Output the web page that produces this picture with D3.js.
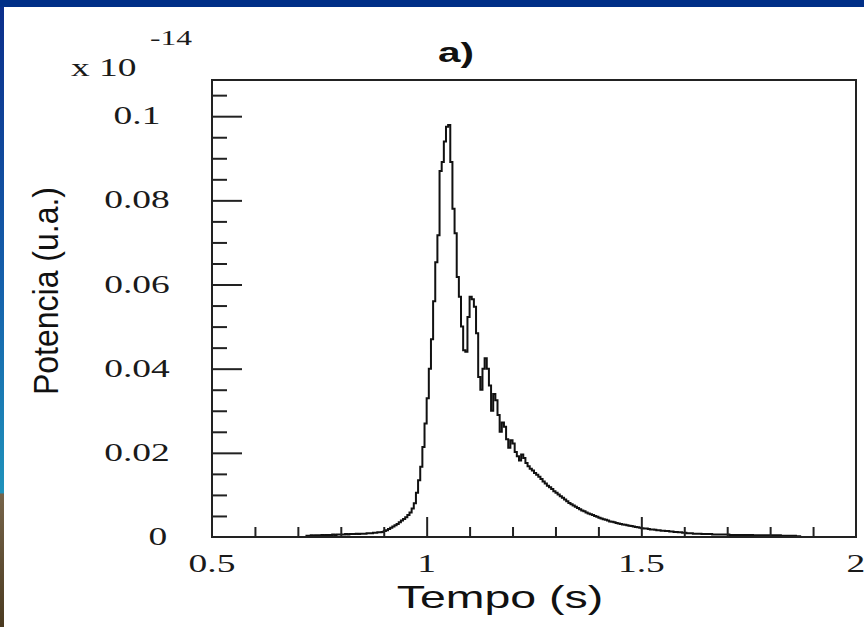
<!DOCTYPE html>
<html>
<head>
<meta charset="utf-8">
<script src="https://cdn.jsdelivr.net/npm/d3@7"></script>
<style>
    html, body { margin: 0; padding: 0; background: #ffffff; }
    #chart { width: 864px; height: 627px; }
</style>
</head>
<body>
<div id="chart"></div>
<script>
// Power vs time histogram, slide "a)"
// values are in units of 1e-14 (u.a.), bins of 0.005 s starting at 0.70 s

var binStart = 0.70;
var binWidth = 0.005;

var power = [
    0, 0, 0, 0, 0.0003, 0.0003, 0.0004, 0.0003, 0.0004, 0.0004,
    0.0004, 0.0005, 0.0004, 0.0005, 0.0005, 0.0005, 0.0006, 0.0005, 0.0006, 0.0006,
    0.0006, 0.0006, 0.0007, 0.0006, 0.0007, 0.0007, 0.0007, 0.0008, 0.0007, 0.0008,
    0.0008, 0.0008, 0.0009, 0.0009, 0.0009, 0.0010, 0.0010, 0.0011, 0.0011, 0.0012,
    0.0014, 0.0016, 0.0019, 0.0022, 0.0025, 0.0028, 0.0031, 0.0035, 0.0039, 0.0043,
    0.0047, 0.0052, 0.0058, 0.0068, 0.0080, 0.0105, 0.0135, 0.0167, 0.0214, 0.0270,
    0.0330, 0.0400, 0.0470, 0.0560, 0.0653, 0.0717, 0.0870, 0.0891, 0.0940, 0.0975,
    0.0979, 0.0891, 0.0780, 0.0722, 0.0618, 0.0571, 0.0500, 0.0444, 0.0440, 0.0523,
    0.0571, 0.0565, 0.0547, 0.0484, 0.0380, 0.0350, 0.0400, 0.0425, 0.0400, 0.0360,
    0.0300, 0.0340, 0.0325, 0.0290, 0.0250, 0.0272, 0.0262, 0.0232, 0.0212, 0.0230,
    0.0222, 0.0202, 0.0192, 0.0182, 0.0196, 0.0188, 0.0176, 0.0168, 0.0162, 0.0158,
    0.0152, 0.0148, 0.0143, 0.0138, 0.0132, 0.0127, 0.0122, 0.0118, 0.0114, 0.0109,
    0.0105, 0.0101, 0.0097, 0.0093, 0.0089, 0.0085, 0.0081, 0.0078, 0.0075, 0.0072,
    0.0069, 0.0066, 0.0063, 0.0061, 0.0058, 0.0056, 0.0054, 0.0052, 0.0050, 0.0048,
    0.0046, 0.0044, 0.0042, 0.0041, 0.0039, 0.0037, 0.0036, 0.0035, 0.0033, 0.0032,
    0.0031, 0.0030, 0.0029, 0.0028, 0.0027, 0.0026, 0.0025, 0.0024, 0.0023, 0.0022,
    0.0021, 0.0020, 0.0020, 0.0019, 0.0018, 0.0018, 0.0017, 0.0016, 0.0016, 0.0015,
    0.0015, 0.0014, 0.0014, 0.0013, 0.0013, 0.0012, 0.0012, 0.0011, 0.0011, 0.0010,
    0.0010, 0.0009, 0.0009, 0.0009, 0.0008, 0.0008, 0.0008, 0.0008, 0.0007, 0.0007,
    0.0007, 0.0007, 0.0007, 0.0006, 0.0006, 0.0006, 0.0006, 0.0006, 0.0006, 0.0006,
    0.0006, 0.0005, 0.0005, 0.0005, 0.0005, 0.0005, 0.0005, 0.0005, 0.0005, 0.0005,
    0.0005, 0.0005, 0.0004, 0.0004, 0.0004, 0.0004, 0.0004, 0.0004, 0.0004, 0.0004,
    0.0004, 0.0004, 0.0004, 0.0004, 0.0004, 0.0003, 0.0003, 0.0003, 0.0003, 0.0003,
    0.0003, 0.0003, 0.0002, 0.0002, 0, 0, 0, 0, 0, 0
];

var xDomain = [0.5, 2.0];
var yDomain = [0, 0.1086];
var xMajorTicks = [0.5, 1, 1.5, 2];
var xTickLabels = ["0.5", "1", "1.5", "2"];
var yMajorTicks = [0, 0.02, 0.04, 0.06, 0.08, 0.1];
var yTickLabels = ["0", "0.02", "0.04", "0.06", "0.08", "0.1"];

var titleText = "a)";
var xTitle = "Tempo (s)";
var yTitle = "Potencia (u.a.)";
var exponentBase = "x 10";
var exponentPower = "-14";

(function() {

    var width = 864;
    var height = 627;

    // frame of the plot, in pixels
    var left = 212, right = 856, top = 80, bottom = 537;

    // the picture was stretched sideways, so text is too
    var stretch = 1.5;
    var serif = "'Liberation Serif', 'Times New Roman', serif";
    var sans = "'Liberation Sans', Arial, sans-serif";

    var svg = d3.select("#chart")
        .append("svg")
        .attr("width", width)
        .attr("height", height);

    var defs = svg.append("defs");

    var grad = defs.append("linearGradient")
        .attr("id", "side-strip")
        .attr("x1", 0).attr("y1", 0)
        .attr("x2", 0).attr("y2", 1);

    grad.append("stop").attr("offset", "0%").attr("stop-color", "#0b2d8a");
    grad.append("stop").attr("offset", "45%").attr("stop-color", "#1560ab");
    grad.append("stop").attr("offset", "78.6%").attr("stop-color", "#1f92bb");
    grad.append("stop").attr("offset", "78.8%").attr("stop-color", "#76644a");
    grad.append("stop").attr("offset", "100%").attr("stop-color", "#4a3a20");

    // slide background
    svg.append("rect")
        .attr("width", width)
        .attr("height", height)
        .attr("fill", "#ffffff");

    svg.append("rect")
        .attr("x", 0)
        .attr("y", 0)
        .attr("width", 4)
        .attr("height", height)
        .attr("fill", "url(#side-strip)");

    svg.append("rect")
        .attr("x", 0)
        .attr("y", 0)
        .attr("width", width)
        .attr("height", 7)
        .attr("fill", "#002f87");

    var x = d3.scaleLinear().domain(xDomain).range([left, right]);
    var y = d3.scaleLinear().domain(yDomain).range([bottom, top]);

    // histogram as a step line
    var points = power.map(function(v, i) {
        return { t: binStart + i * binWidth, v: v };
    });
    points.push({ t: binStart + power.length * binWidth, v: power[power.length - 1] });

    var line = d3.line()
        .x(function(d) {
            return x(d.t);
        })
        .y(function(d) {
            return y(d.v);
        })
        .curve(d3.curveStepAfter);

    svg.append("path")
        .datum(points)
        .attr("d", line)
        .attr("fill", "none")
        .attr("stroke", "#111111")
        .attr("stroke-width", 2);

    // ticks, all drawn inward
    var xAxis = d3.axisTop(x)
        .tickValues(d3.range(6, 20).map(function(k) { return k / 10; }))
        .tickSize(10)
        .tickFormat("");

    svg.append("g")
        .attr("transform", "translate(0," + bottom + ")")
        .call(xAxis)
        .call(function(g) {
            g.select(".domain").remove();
            g.selectAll(".tick line")
                .attr("stroke", "#222222")
                .attr("stroke-width", 2)
                .attr("y2", function(d) {
                    return xMajorTicks.indexOf(d) >= 0 ? -20 : -10;
                });
        });

    var yAxis = d3.axisRight(y)
        .tickValues(d3.range(1, 22).map(function(k) { return k * 0.005; }))
        .tickSize(15)
        .tickFormat("");

    svg.append("g")
        .attr("transform", "translate(" + left + ",0)")
        .call(yAxis)
        .call(function(g) {
            g.select(".domain").remove();
            g.selectAll(".tick line")
                .attr("stroke", "#222222")
                .attr("stroke-width", 2)
                .attr("x2", function(d, i) {
                    return (i + 1) % 4 === 0 ? 30 : 15;
                });
        });

    // frame
    svg.append("rect")
        .attr("x", left)
        .attr("y", top)
        .attr("width", right - left)
        .attr("height", bottom - top)
        .attr("fill", "none")
        .attr("stroke", "#222222")
        .attr("stroke-width", 2);

    // x tick labels
    svg.append("g")
        .selectAll("text")
        .data(xMajorTicks)
        .enter()
        .append("text")
        .attr("transform", function(d) {
            return "translate(" + x(d) + ",572) scale(" + stretch + ",1)";
        })
        .attr("text-anchor", "middle")
        .attr("font-family", serif)
        .attr("font-size", "25px")
        .attr("fill", "#1a1a1a")
        .text(function(d, i) {
            return xTickLabels[i];
        });

    // y tick labels
    svg.append("g")
        .selectAll("text")
        .data(yMajorTicks)
        .enter()
        .append("text")
        .attr("transform", function(d) {
            var cx = d === 0 ? 158 : 137;
            return "translate(" + cx + "," + (y(d) + 8) + ") scale(" + stretch + ",1)";
        })
        .attr("text-anchor", "middle")
        .attr("font-family", serif)
        .attr("font-size", "25px")
        .attr("fill", "#1a1a1a")
        .text(function(d, i) {
            return yTickLabels[i];
        });

    // exponent
    svg.append("text")
        .attr("transform", "translate(71,76) scale(" + stretch + ",1)")
        .attr("font-family", serif)
        .attr("font-size", "25px")
        .attr("fill", "#1a1a1a")
        .text(exponentBase);

    svg.append("text")
        .attr("transform", "translate(150,45) scale(" + stretch + ",1)")
        .attr("font-family", serif)
        .attr("font-size", "21px")
        .attr("fill", "#1a1a1a")
        .text(exponentPower);

    // title
    svg.append("text")
        .attr("transform", "translate(456,62) scale(" + stretch + ",1)")
        .attr("text-anchor", "middle")
        .attr("font-family", sans)
        .attr("font-weight", "bold")
        .attr("font-size", "27px")
        .attr("fill", "#111111")
        .text(titleText);

    // axis titles
    svg.append("text")
        .attr("transform", "translate(500,608) scale(" + stretch + ",1)")
        .attr("text-anchor", "middle")
        .attr("font-family", sans)
        .attr("font-size", "31px")
        .attr("fill", "#111111")
        .text(xTitle);

    svg.append("text")
        .attr("transform", "translate(58,291) scale(1.1,1) rotate(-90)")
        .attr("text-anchor", "middle")
        .attr("font-family", sans)
        .attr("font-size", "32px")
        .attr("fill", "#111111")
        .text(yTitle);

})();
</script>
</body>
</html>
